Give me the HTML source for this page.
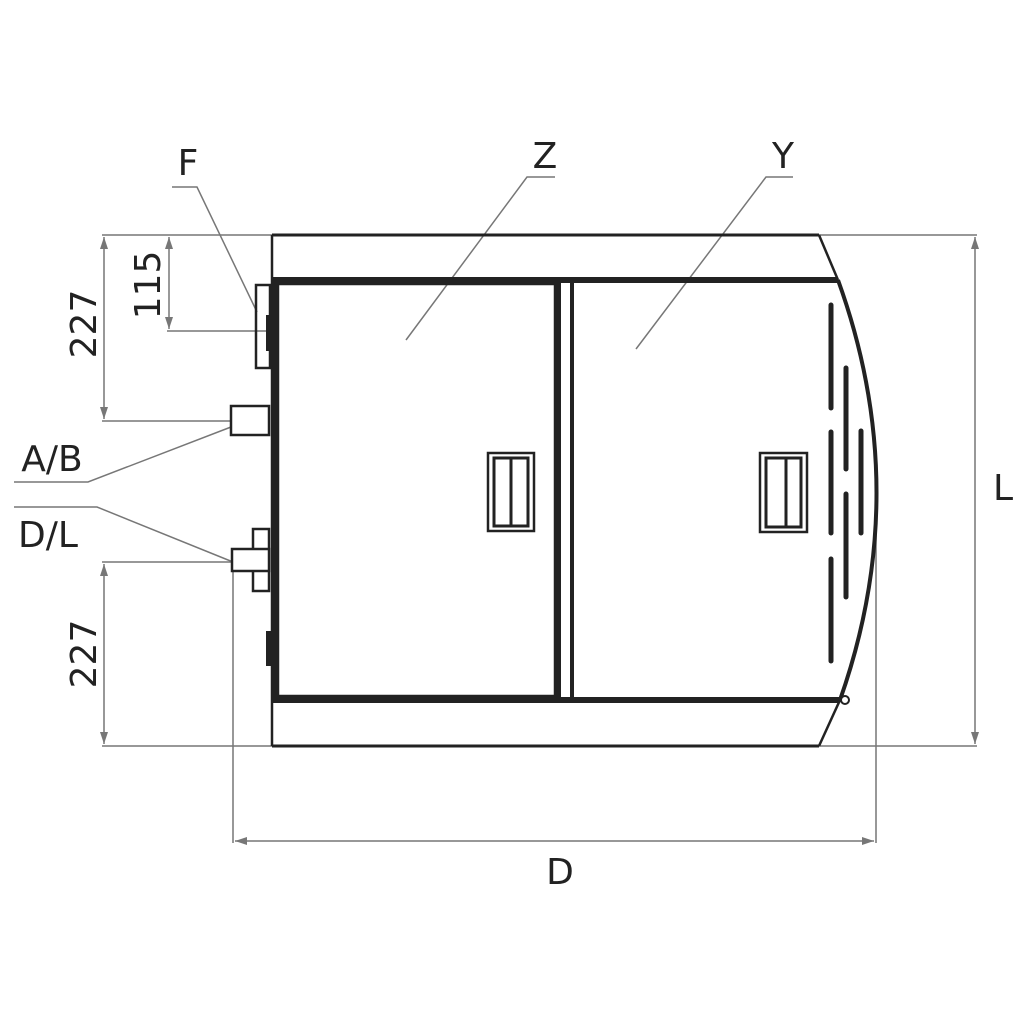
<!DOCTYPE html>
<html><head><style>body{margin:0;background:#fff}svg{display:block}text{font-family:"DejaVu Sans","Liberation Sans",sans-serif;fill:#222;font-size:36px}</style></head><body>
<svg width="1024" height="1024" viewBox="0 0 1024 1024" xmlns="http://www.w3.org/2000/svg">
<defs><marker id="a" viewBox="0 0 12 8" refX="12" refY="4" markerWidth="12" markerHeight="8" orient="auto-start-reverse" markerUnits="userSpaceOnUse"><path d="M0,0L12,4L0,8z" fill="#777"/></marker></defs>
<g stroke="#777" stroke-width="1.5" fill="none">
<line x1="975" y1="237" x2="975" y2="744" marker-start="url(#a)" marker-end="url(#a)"/>
<line x1="819" y1="235" x2="977" y2="235"/><line x1="819" y1="746" x2="977" y2="746"/>
<line x1="235" y1="841" x2="874" y2="841" marker-start="url(#a)" marker-end="url(#a)"/>
<line x1="233" y1="562" x2="233" y2="843"/><line x1="876" y1="500" x2="876" y2="843"/>
<line x1="104" y1="237" x2="104" y2="419" marker-start="url(#a)" marker-end="url(#a)"/>
<line x1="102" y1="235" x2="272" y2="235"/><line x1="102" y1="421" x2="231" y2="421"/>
<line x1="169" y1="237" x2="169" y2="329" marker-start="url(#a)" marker-end="url(#a)"/>
<line x1="167" y1="331" x2="272" y2="331"/>
<line x1="104" y1="564" x2="104" y2="744" marker-start="url(#a)" marker-end="url(#a)"/>
<line x1="102" y1="562" x2="233" y2="562"/><line x1="102" y1="746" x2="272" y2="746"/>
<polyline points="172,187 197,187 257,312"/>
<polyline points="555,177 527,177 406,340"/>
<polyline points="793,177 766,177 636,349"/>
<polyline points="14,482 88,482 231,427"/>
<polyline points="14,507 97,507 233,562"/>
</g>
<g stroke="#222" fill="none">
<line x1="272" y1="235" x2="819" y2="235" stroke-width="3"/>
<line x1="272" y1="746" x2="819" y2="746" stroke-width="3"/>
<line x1="272" y1="235" x2="272" y2="746" stroke-width="2.5"/>
<polyline points="819,235 838,280" stroke-width="2.5"/>
<polyline points="840,700 819,746" stroke-width="2.5"/>
<line x1="272" y1="280" x2="838" y2="280" stroke-width="6"/>
<line x1="272" y1="700" x2="840" y2="700" stroke-width="6"/>
<line x1="276" y1="280" x2="276" y2="700" stroke-width="6"/>
<rect x="278" y="284" width="277" height="412" stroke-width="2.5"/>
<line x1="558" y1="283" x2="558" y2="697" stroke-width="6"/>
<line x1="572" y1="283" x2="572" y2="697" stroke-width="4"/>
<path d="M838,280 Q914,490 840,700" stroke-width="4"/>
<circle cx="845" cy="700" r="4" stroke-width="2" fill="#fff"/>
<rect x="488" y="453" width="46" height="78" stroke-width="2.5"/>
<rect x="494" y="458" width="34" height="68" stroke-width="3"/>
<line x1="511" y1="458" x2="511" y2="526" stroke-width="3"/>
<rect x="760" y="453" width="47" height="79" stroke-width="2.5"/>
<rect x="766" y="458" width="35" height="69" stroke-width="3"/>
<line x1="786" y1="458" x2="786" y2="527" stroke-width="3"/>
<g stroke-width="5" stroke-linecap="round">
<line x1="831" y1="305" x2="831" y2="408"/><line x1="831" y1="432" x2="831" y2="533"/><line x1="831" y1="559" x2="831" y2="661"/>
<line x1="846" y1="368" x2="846" y2="469"/><line x1="846" y1="494" x2="846" y2="597"/>
<line x1="861" y1="431" x2="861" y2="533"/>
</g>
<rect x="256" y="285" width="14" height="83" stroke-width="2.5"/>
<rect x="267" y="316" width="5" height="34" stroke-width="2" fill="#222"/>
<rect x="231" y="406" width="38" height="29" stroke-width="2.5"/>
<rect x="253" y="529" width="16" height="62" stroke-width="2.5" fill="#fff"/>
<rect x="232" y="549" width="37" height="22" stroke-width="2.5" fill="#fff"/>
<rect x="267" y="632" width="5" height="33" stroke-width="2" fill="#222"/>
</g>
<text x="188" y="175" text-anchor="middle">F</text>
<text x="545" y="168" text-anchor="middle">Z</text>
<text x="783" y="168" text-anchor="middle">Y</text>
<text x="52" y="471" text-anchor="middle">A/B</text>
<text x="48" y="547" text-anchor="middle">D/L</text>
<text x="1003" y="500" text-anchor="middle">L</text>
<text x="560" y="884" text-anchor="middle">D</text>
<text transform="translate(96,324) rotate(-90)" text-anchor="middle">227</text>
<text transform="translate(160,285) rotate(-90)" text-anchor="middle">115</text>
<text transform="translate(96,654) rotate(-90)" text-anchor="middle">227</text>
</svg>
</body></html>
